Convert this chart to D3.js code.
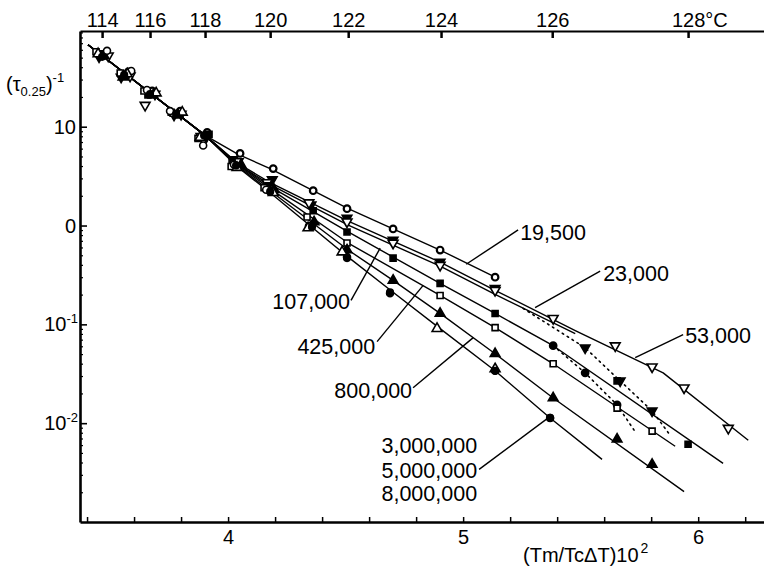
<!DOCTYPE html>
<html>
<head>
<meta charset="utf-8">
<script src="https://cdn.jsdelivr.net/npm/d3@7"></script>
<style>
  html, body { margin: 0; padding: 0; background: #fff; }
  svg { display: block; font-family: "Liberation Sans", Arial, Helvetica, sans-serif; }
</style>
</head>
<body>
<svg id="chart" width="764" height="569"></svg>
<script>
// ---- axis ticks ----------------------------------------------------------
// crystallization temperatures (°C) and their place on the (Tm/TcΔT)·10² scale
const tempLabels = ["114", "116", "118", "120", "122", "124", "126", "128"];
const tempPositions = [3.464, 3.668, 3.902, 4.179, 4.511, 4.906, 5.379, 5.957];

const xMajorTicks = [4, 5, 6];
const xMinorTicks = [3.4, 3.6, 3.8, 4.0, 4.2, 4.4, 4.6, 4.8, 5.0, 5.2, 5.4, 5.6, 5.8, 6.0, 6.2];

const yTickValues = [10, 1, 0.1, 0.01];
const yTickBase = ["10", "0", "10", "10"];
const yTickExp = ["", "", "-1", "-2"];

// ---- rate data: (τ0.25)^-1 versus (Tm/TcΔT)·10², one set per molecular weight
const x19500 = [3.481, 3.575, 3.677, 3.796, 3.911, 4.051, 4.192, 4.362, 4.506, 4.702, 4.902, 5.136];
const y19500 = [55.9, 35.8, 23.0, 14.4, 8.77, 5.36, 3.77, 2.25, 1.48, 0.923, 0.565, 0.300];
const fitX19500 = [3.404, 3.902, 4.043, 4.179, 4.511, 4.902, 5.145];
const fitY19500 = [67.4, 8.17, 5.24, 3.77, 1.48, 0.565, 0.293];

const x23000 = [3.451, 3.545, 3.689, 3.770, 3.907, 4.021, 4.188, 4.353, 4.506, 4.702, 4.902, 5.136, 5.519, 5.668, 5.804];
const y23000 = [50.9, 31.8, 21.4, 13.1, 7.80, 4.66, 2.91, 1.62, 1.19, 0.713, 0.426, 0.232, 0.0580, 0.0268, 0.0133];
const fitX23000 = [3.404, 3.902, 4.043, 4.179, 4.511, 4.902, 5.136, 5.477];
const fitY23000 = [67.4, 8.17, 4.14, 2.59, 1.01, 0.388, 0.201, 0.0805];
const dotX23000 = [5.255, 5.519, 5.668, 5.804, 5.881];
const dotY23000 = [0.145, 0.0580, 0.0268, 0.0133, 0.00755];

const x53000 = [3.490, 3.583, 3.647, 3.800, 3.885, 4.043, 4.166, 4.344, 4.506, 4.702, 4.902, 5.136, 5.383, 5.647, 5.804, 5.940, 6.128];
const y53000 = [52.1, 32.6, 16.5, 13.4, 7.98, 4.44, 2.72, 1.70, 1.09, 0.665, 0.397, 0.221, 0.115, 0.0608, 0.0372, 0.0228, 0.00889];
const fitX53000 = [3.404, 3.902, 4.043, 4.179, 4.511, 4.902, 5.136, 5.477, 5.851, 6.213];
const fitY53000 = [67.4, 8.17, 4.24, 2.72, 1.11, 0.426, 0.221, 0.0865, 0.0323, 0.00672];

const x107000 = [3.460, 3.566, 3.659, 3.758, 3.919, 4.017, 4.170, 4.362, 4.506, 4.702, 4.902, 5.136, 5.655, 5.957];
const y107000 = [54.6, 33.4, 20.9, 14.0, 8.37, 4.34, 2.53, 1.41, 0.861, 0.468, 0.260, 0.129, 0.0268, 0.00612];
const branchX107000 = [5.383, 5.519, 5.655];
const branchY107000 = [0.0608, 0.0323, 0.0153];
const fitX107000 = [3.404, 3.902, 4.043, 4.179, 4.511, 4.902, 5.136, 5.383, 6.106];
const fitY107000 = [67.4, 8.17, 4.14, 2.47, 0.861, 0.260, 0.129, 0.0608, 0.00392];
const dotX107000 = [5.383, 5.519, 5.655, 5.736];
const dotY107000 = [0.0608, 0.0323, 0.0153, 0.00792];

const x425000 = [3.438, 3.541, 3.642, 3.766, 3.872, 4.013, 4.153, 4.336, 4.506, 4.902, 5.136, 5.383, 5.655, 5.804];
const y425000 = [57.3, 35.0, 23.0, 13.7, 7.62, 3.95, 2.42, 1.22, 0.665, 0.196, 0.0927, 0.0399, 0.0142, 0.00830];
const fitX425000 = [3.404, 3.902, 4.043, 4.179, 4.511, 4.902, 5.136, 5.383, 5.902];
const fitY425000 = [67.4, 8.17, 4.05, 2.36, 0.665, 0.196, 0.0927, 0.0399, 0.00584];

const x800000 = [3.473, 3.553, 3.681, 3.788, 3.902, 4.055, 4.196, 4.366, 4.506, 4.702, 4.902, 5.136, 5.383, 5.655, 5.804];
const y800000 = [52.1, 31.8, 20.9, 13.1, 7.98, 4.14, 2.30, 1.09, 0.565, 0.279, 0.129, 0.0504, 0.0180, 0.00688, 0.00383];
const fitX800000 = [3.404, 3.902, 4.043, 4.179, 4.511, 4.702, 4.902, 5.136, 5.383, 5.940];
const fitY800000 = [67.4, 8.17, 3.95, 2.25, 0.565, 0.279, 0.129, 0.0504, 0.0180, 0.00203];

const x3000000 = [3.485, 3.588, 3.655, 3.753, 3.894, 4.025, 4.162, 4.344, 4.506, 4.689, 5.136, 5.370];
const y3000000 = [58.6, 36.6, 23.5, 14.4, 6.46, 4.14, 2.30, 0.991, 0.479, 0.206, 0.0339, 0.0113];
const x5000000 = [3.447, 3.571, 3.694, 3.805, 3.881, 4.038, 4.192, 4.340, 4.485, 4.889, 5.136];
const y5000000 = [54.6, 34.2, 21.9, 14.0, 7.80, 3.86, 2.15, 0.946, 0.539, 0.0906, 0.0354];
const x8000000 = [3.464, 3.558, 3.668, 3.779, 3.898, 4.034, 4.179, 4.357, 4.506, 4.689, 5.136, 5.370];
const y8000000 = [50.9, 33.4, 21.4, 13.4, 8.17, 4.05, 2.20, 0.968, 0.468, 0.211, 0.0339, 0.0113];
// the three highest molecular weights share one line
const fitXHigh = [3.404, 3.902, 4.043, 4.179, 4.511, 4.702, 4.902, 5.136, 5.370, 5.591];
const fitYHigh = [67.4, 8.17, 3.86, 2.15, 0.479, 0.211, 0.0906, 0.0339, 0.0113, 0.00430];

// ---- labels with their leader lines (from the curve to the label) -------
const labelTexts = [["19,500"], ["23,000"], ["53,000"], ["107,000"], ["425,000"], ["800,000"],
                    ["3,000,000", "5,000,000", "8,000,000"]];
const leaderFrom = [[5.013, 0.406], [5.306, 0.148], [5.732, 0.0460], [4.647, 0.591],
                    [4.830, 0.248], [5.043, 0.0734], [5.362, 0.0113]];
const leaderTo = [[5.234, 0.902], [5.583, 0.345], [5.936, 0.0788], [4.523, 0.175],
                  [4.634, 0.0668], [4.787, 0.0228], [5.068, 0.00341]];

// ---- drawing -------------------------------------------------------------
const svg = d3.select("#chart");
svg.append("rect").attr("width", 764).attr("height", 569).attr("fill", "#fff");

const x = d3.scaleLinear().domain([3.37, 6.28]).range([80, 764]);
const y = d3.scaleLog().domain([0.001, 93]).range([522, 31]);

const zip = (a, b) => a.map((v, i) => [v, b[i]]);
const line = d3.line().x(d => x(d[0])).y(d => y(d[1]));

// bottom axis
const gB = svg.append("g").attr("transform", "translate(0,522)")
  .call(d3.axisBottom(x).tickValues(xMinorTicks).tickSize(-5).tickSizeOuter(0).tickPadding(8)
    .tickFormat(d => xMajorTicks.some(m => Math.abs(m - d) < 1e-6) ? String(Math.round(d)) : ""));
gB.select(".domain").attr("stroke", "#000").attr("stroke-width", 2.6);
gB.selectAll(".tick line").attr("stroke", "#000").attr("stroke-width", 1.5);
gB.selectAll(".tick text").attr("font-size", 20).attr("fill", "#000").attr("font-family", null);

// top axis: temperatures
const gT = svg.append("g").attr("transform", "translate(0,31)")
  .call(d3.axisTop(x).tickValues(tempPositions).tickSize(-7).tickSizeOuter(0).tickPadding(4)
    .tickFormat((d, i) => tempLabels[i]));
gT.select(".domain").attr("stroke", "#000").attr("stroke-width", 1.8);
gT.selectAll(".tick line").attr("stroke", "#000").attr("stroke-width", 2.5);
gT.selectAll(".tick text").attr("font-size", 20).attr("fill", "#000").attr("font-family", null);
const lastTemp = gT.selectAll(".tick text").filter((d, i) => i === tempLabels.length - 1);
const wLast = lastTemp.node().getComputedTextLength();
lastTemp.attr("text-anchor", "start").attr("x", -wLast / 2).append("tspan").text("°C");

// left axis (log)
const yMinor = [];
for (let k = -3; k <= 1; k++) for (let m = 2; m <= 9; m++) {
  const v = m * Math.pow(10, k);
  if (v < 93) yMinor.push(v);
}
const gL = svg.append("g").attr("transform", "translate(80,0)")
  .call(d3.axisLeft(y).tickValues(yTickValues).tickSize(-7).tickSizeOuter(0).tickFormat(""));
gL.select(".domain").attr("stroke", "#000").attr("stroke-width", 2.6);
gL.selectAll(".tick line").attr("stroke", "#000").attr("stroke-width", 1.6);
const gLm = svg.append("g").attr("transform", "translate(80,0)")
  .call(d3.axisLeft(y).tickValues(yMinor).tickSize(-3).tickSizeOuter(0).tickFormat(""));
gLm.select(".domain").remove();
gLm.selectAll(".tick line").attr("stroke", "#000").attr("stroke-width", 1.2);

yTickValues.forEach((v, i) => {
  const t = svg.append("text")
    .attr("x", yTickExp[i] ? 78 : 76)
    .attr("y", y(v) + 7)
    .attr("text-anchor", "end")
    .attr("font-size", 20)
    .attr("fill", "#000");
  t.append("tspan").text(yTickBase[i]);
  if (yTickExp[i]) t.append("tspan").attr("font-size", 13).attr("dy", -8).text(yTickExp[i]);
});

// axis titles
const yTitle = svg.append("text").attr("x", 6).attr("y", 91).attr("font-size", 20).attr("fill", "#000");
yTitle.append("tspan").text("(τ");
yTitle.append("tspan").attr("font-size", 13).attr("dy", 5).text("0.25");
yTitle.append("tspan").attr("dy", -5).text(")");
yTitle.append("tspan").attr("font-size", 13).attr("dy", -9).text("-1");

const xTitle = svg.append("text").attr("x", 523).attr("y", 562).attr("font-size", 20).attr("fill", "#000");
xTitle.append("tspan").text("(Tm/Tc\u0394T)10");
xTitle.append("tspan").attr("font-size", 14).attr("dy", -9).attr("dx", 2).text("2");

// fitted lines
const fits = [
  [fitX19500, fitY19500], [fitX23000, fitY23000], [fitX53000, fitY53000],
  [fitX107000, fitY107000], [fitX425000, fitY425000], [fitX800000, fitY800000],
  [fitXHigh, fitYHigh]
];
const gLines = svg.append("g");
fits.forEach(([fx, fy]) => {
  gLines.append("path").attr("d", line(zip(fx, fy)))
    .attr("fill", "none").attr("stroke", "#000").attr("stroke-width", 1.4)
    .attr("stroke-linejoin", "round");
});
[[dotX23000, dotY23000], [dotX107000, dotY107000]].forEach(([fx, fy]) => {
  gLines.append("path").attr("d", line(zip(fx, fy)))
    .attr("fill", "none").attr("stroke", "#000").attr("stroke-width", 1.6)
    .attr("stroke-dasharray", "1.6,4.2").attr("stroke-linecap", "round");
});

// markers
const markerStyle = {
  "19,500":    { type: d3.symbolCircle,   size: 34, filled: false, flip: false, sw: 2.2 },
  "23,000":    { type: d3.symbolTriangle, size: 40, filled: true,  flip: true },
  "53,000":    { type: d3.symbolTriangle, size: 42, filled: false, flip: true },
  "107,000":   { type: d3.symbolSquare,   size: 36, filled: true,  flip: false },
  "107,000b":  { type: d3.symbolCircle,   size: 40, filled: true,  flip: false },
  "425,000":   { type: d3.symbolSquare,   size: 36, filled: false, flip: false },
  "800,000":   { type: d3.symbolTriangle, size: 40, filled: true,  flip: false },
  "3,000,000": { type: d3.symbolCircle,   size: 38, filled: false, flip: false },
  "5,000,000": { type: d3.symbolTriangle, size: 42, filled: false, flip: false },
  "8,000,000": { type: d3.symbolCircle,   size: 34, filled: true,  flip: false }
};
const markerSets = [
  ["19,500", x19500, y19500], ["23,000", x23000, y23000], ["53,000", x53000, y53000],
  ["107,000", x107000, y107000], ["107,000b", branchX107000, branchY107000],
  ["425,000", x425000, y425000], ["800,000", x800000, y800000],
  ["3,000,000", x3000000, y3000000], ["5,000,000", x5000000, y5000000],
  ["8,000,000", x8000000, y8000000]
];
const gMarks = svg.append("g");
markerSets.forEach(([key, xs, ys]) => {
  const st = markerStyle[key];
  const path = d3.symbol().type(st.type).size(st.size)();
  gMarks.selectAll(null).data(zip(xs, ys)).join("path")
    .attr("d", path)
    .attr("transform", d => `translate(${x(d[0])},${y(d[1])})${st.flip ? " rotate(180)" : ""}`)
    .attr("fill", st.filled ? "#000" : "#fff")
    .attr("stroke", "#000")
    .attr("stroke-width", st.sw || 1.6);
});

// labels and leaders
const labelLayout = [
  { anchor: "start", dx: 2,  dy: [10] },
  { anchor: "start", dx: 3,  dy: [10] },
  { anchor: "start", dx: 2,  dy: [8] },
  { anchor: "end",   dx: -1, dy: [9] },
  { anchor: "end",   dx: -2, dy: [12] },
  { anchor: "end",   dx: -1, dy: [10] },
  { anchor: "end",   dx: -2, dy: [-16, 9, 32] }
];
const gAnn = svg.append("g");
labelTexts.forEach((texts, i) => {
  const [fx, fy] = leaderFrom[i], [tx, ty] = leaderTo[i];
  gAnn.append("line")
    .attr("x1", x(fx)).attr("y1", y(fy)).attr("x2", x(tx)).attr("y2", y(ty))
    .attr("stroke", "#000").attr("stroke-width", 1.4);
  const lay = labelLayout[i];
  texts.forEach((t, j) => {
    gAnn.append("text")
      .attr("x", x(tx) + lay.dx).attr("y", y(ty) + lay.dy[j])
      .attr("text-anchor", lay.anchor)
      .attr("font-size", 21.5).attr("fill", "#000")
      .text(t);
  });
});
</script>
</body>
</html>
